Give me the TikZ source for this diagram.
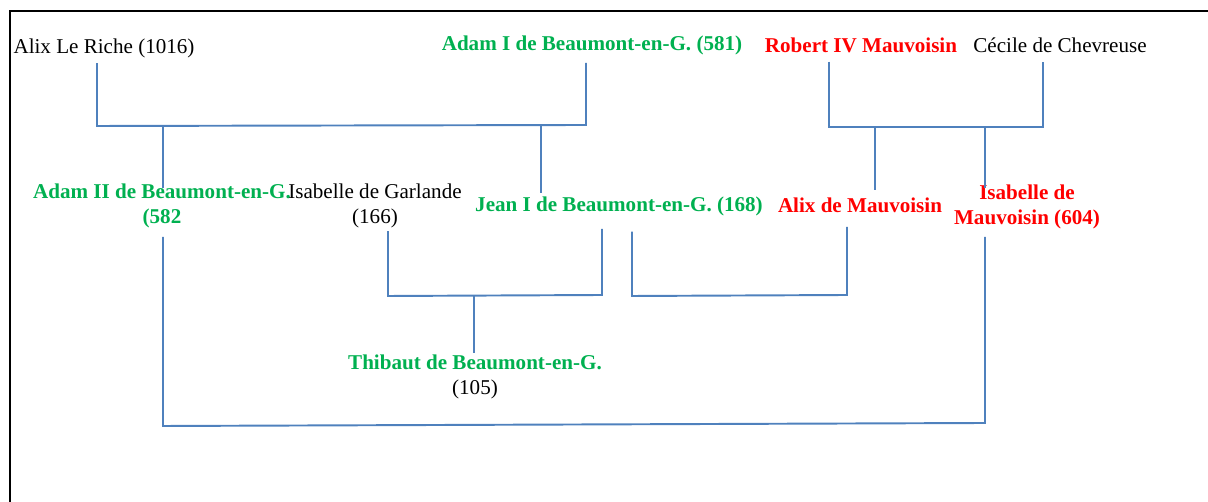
\documentclass[tikz,border=0pt]{standalone}
\usepackage{fontspec}
\setmainfont{Liberation Serif}
\usepackage{tikz}

\definecolor{linkblue}{RGB}{79,129,189}
\definecolor{beaugreen}{RGB}{0,176,80}
\definecolor{mauvred}{RGB}{255,0,0}

\tikzset{
    person/.style={inner sep=0pt, align=center, font=\fontsize{12}{14.2}\selectfont},
    beau/.style={person, text=beaugreen, font=\fontsize{12}{14.2}\selectfont\bfseries},
    mauv/.style={person, text=mauvred, font=\fontsize{12}{14.2}\selectfont\bfseries},
    link/.style={linkblue, line width=1.1pt}
}

\begin{document}
\begin{tikzpicture}[x=0.02cm, y=-0.02cm]

    \useasboundingbox (0,0) rectangle (1208,502);

    % Frame, cut off on the right and at the bottom
    \draw[line width=1.5pt] (1208,11) -- (10,11) -- (10,502);

    % Parents
    \node[person] (alixr) at (104,48) {Alix Le Riche (1016)};
    \node[beau] (adam1) at (592,45) {Adam I de Beaumont-en-G. (581)};
    \node[mauv] (robert) at (861,45) {Robert IV Mauvoisin};
    \node[person] (cecile) at (1060,45) {Cécile de Chevreuse};

    % Children
    \node[beau] (adam2) at (162,206) {Adam II de Beaumont-en-G.\\(582};
    \node[person] (isag) at (375,206) {Isabelle de Garlande\\(166)};
    \node[beau] (jean) at (619,206) {Jean I de Beaumont-en-G. (168)};
    \node[mauv] (alixm) at (860,205) {Alix de Mauvoisin};
    \node[mauv] (isam) at (1027,207) {Isabelle de\\Mauvoisin (604)};

    % Grandchild
    \node[beau] (thibaut) at (475,377) {Thibaut de Beaumont-en-G.\\{\mdseries\color{black}(105)}};

    % Couple bars
    \coordinate (bar1l) at (97,126);
    \coordinate (bar1r) at (586,125);
    \coordinate (bar2l) at (829,127);
    \coordinate (bar2r) at (1043,127);
    \coordinate (bar3l) at (388,296);
    \coordinate (bar3r) at (602,295);
    \coordinate (bar4l) at (632,296);
    \coordinate (bar4r) at (847,295);
    \coordinate (bar5l) at (163,426);
    \coordinate (bar5r) at (985,423);

    % Alix Le Riche + Adam I
    \draw[link] ([yshift=-3pt]alixr.south -| bar1l) -- (bar1l) -- (bar1r) -- ([yshift=-4.5pt]adam1.south -| bar1r);
    \draw[link] (bar5l |- bar1l) -- ([yshift=-2.5pt]adam2.north -| bar5l);
    \draw[link] (541,126) -- ([yshift=1.5pt]jean.north -| 541,0);

    % Robert IV + Cecile
    \draw[link] ([yshift=-5pt]robert.south -| bar2l) -- (bar2l) -- (bar2r) -- ([yshift=-5pt]cecile.south -| bar2r);
    \draw[link] (875,127) -- ([yshift=4pt]alixm.north -| 875,0);
    \draw[link] (985,127) -- ([yshift=-2pt]isam.north -| 985,0);

    % Isabelle de Garlande + Jean I
    \draw[link] ([yshift=-1.5pt]isag.south -| bar3l) -- (bar3l) -- (bar3r) -- ([yshift=-7.4pt]jean.south -| bar3r);
    \draw[link] (474,296) -- ([yshift=1pt]thibaut.north -| 474,0);

    % Jean I + Alix de Mauvoisin
    \draw[link] ([yshift=-9pt]jean.south -| bar4l) -- (bar4l) -- (bar4r) -- ([yshift=-8pt]alixm.south -| bar4r);

    % Adam II + Isabelle de Mauvoisin
    \draw[link] ([yshift=-4.8pt]adam2.south -| bar5l) -- (bar5l) -- (bar5r) -- ([yshift=-4.2pt]isam.south -| bar5r);

\end{tikzpicture}
\end{document}
